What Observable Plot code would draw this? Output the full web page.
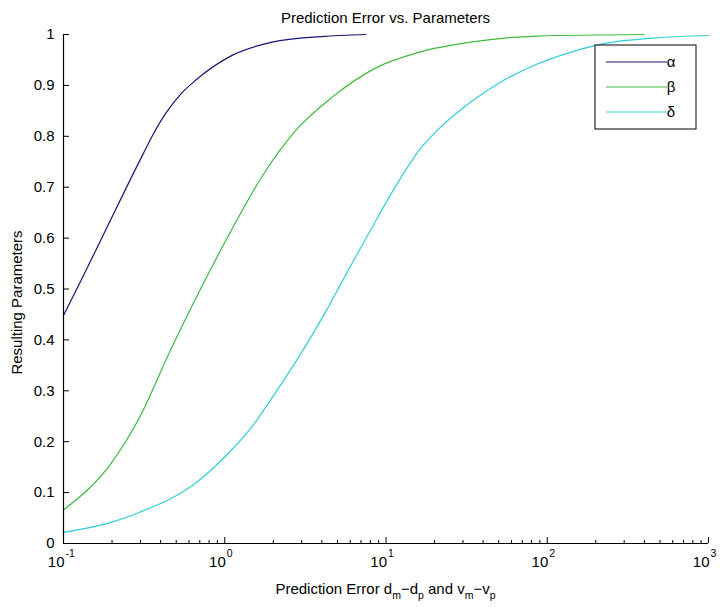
<!DOCTYPE html>
<html>
<head>
<meta charset="utf-8">
<script src="https://cdn.jsdelivr.net/npm/d3@7"></script>
<script src="https://cdn.jsdelivr.net/npm/@observablehq/plot@0.6"></script>
<style>
  body { margin: 0; background: #fff; }
  svg { font-family: "Liberation Sans", Arial, sans-serif; }
</style>
</head>
<body>
<div id="chart"></div>
<script>
// ---- data ----
const alphaX = [0.1, 0.13, 0.182, 0.308, 0.36, 0.43, 0.53, 0.659, 1.11, 1.97, 4, 7.5];
const alphaY = [0.448, 0.52, 0.615, 0.762, 0.804, 0.845, 0.882, 0.910, 0.959, 0.985, 0.996, 1.0];

const betaX = [0.1, 0.2, 0.3, 0.45, 0.708, 1.11, 1.71, 2.75, 4.64, 8.6, 16.4, 33.4, 87, 400];
const betaY = [0.066, 0.160, 0.251, 0.373, 0.50, 0.618, 0.722, 0.811, 0.877, 0.934, 0.966, 0.985, 0.997, 1.0];

const deltaX = [0.1, 0.2, 0.3, 0.63, 1.0, 1.48, 2.07, 3.02, 4.22, 5.35, 8.0, 12.9, 16, 20.7, 33.4, 53.8, 86.7, 139, 224, 458, 1000];
const deltaY = [0.022, 0.042, 0.062, 0.114, 0.170, 0.230, 0.297, 0.377, 0.455, 0.515, 0.615, 0.728, 0.772, 0.811, 0.867, 0.910, 0.942, 0.965, 0.982, 0.993, 0.998];

const seriesNames = ["α", "β", "δ"];
const seriesColors = ["#15157a", "#3cbb3c", "#30cfd6"];

const yTicks = [0, 0.1, 0.2, 0.3, 0.4, 0.5, 0.6, 0.7, 0.8, 0.9, 1];
const yTickLabels = ["0", "0.1", "0.2", "0.3", "0.4", "0.5", "0.6", "0.7", "0.8", "0.9", "1"];
const xMajor = [0.1, 1, 10, 100, 1000];
const xExponents = ["-1", "0", "1", "2", "3"];
const xMinor = [0.2,0.3,0.4,0.5,0.6,0.7,0.8,0.9, 2,3,4,5,6,7,8,9, 20,30,40,50,60,70,80,90, 200,300,400,500,600,700,800,900];

const titleText = "Prediction Error vs. Parameters";
const yLabelText = "Resulting Parameters";

// ---- build ----
const toRows = (xs, ys, name) => xs.map((x, i) => ({x, y: ys[i], name}));
const rows = [
  ...toRows(alphaX, alphaY, seriesNames[0]),
  ...toRows(betaX, betaY, seriesNames[1]),
  ...toRows(deltaX, deltaY, seriesNames[2])
];

const W = 720, H = 607;
const mL = 63, mR = 12, mT = 34, mB = 64;
const fs = 15;

const chart = Plot.plot({
  width: W,
  height: H,
  marginLeft: mL,
  marginRight: mR,
  marginTop: mT,
  marginBottom: mB,
  style: {fontFamily: '"Liberation Sans", Arial, sans-serif', fontSize: fs + "px", background: "#fff", overflow: "visible"},
  x: {type: "log", domain: [0.1, 1000], axis: null},
  y: {domain: [0, 1], axis: null},
  color: {domain: seriesNames, range: seriesColors},
  marks: [
    // data lines
    Plot.line(rows, {x: "x", y: "y", z: "name", stroke: "name", strokeWidth: 1.2, curve: "monotone-x"}),
    // axis lines
    Plot.ruleX([0.1], {y1: 0, y2: 1, stroke: "#000", strokeWidth: 1.2}),
    Plot.ruleY([0], {x1: 0.1, x2: 1000, stroke: "#000", strokeWidth: 1.2}),
    // y ticks (inward)
    Plot.ruleY(yTicks, {y: d => d, x1: 0.1, x2: 0.1, insetRight: -6, stroke: "#000"}),
    // x ticks (inward)
    Plot.ruleX(xMajor, {x: d => d, y1: 0, y2: 0, insetBottom: 6, stroke: "#000"}),
    Plot.ruleX(xMinor, {x: d => d, y1: 0, y2: 0, insetBottom: 3, stroke: "#000"}),
    // y tick labels
    Plot.text(yTicks, {x: 0.1, y: d => d, text: (d, i) => yTickLabels[i], textAnchor: "end", dx: -9, fill: "#000", fontSize: fs}),
    // x tick labels: base "10" and exponent
    Plot.text(xMajor, {x: d => d, y: 0, text: () => "10", textAnchor: "end", dx: 1, dy: 19, fill: "#000", fontSize: fs}),
    Plot.text(xMajor, {x: d => d, y: 0, text: (d, i) => xExponents[i], textAnchor: "start", dx: 2, dy: 10, fill: "#000", fontSize: 10.5})
  ]
});

document.getElementById("chart").appendChild(chart);

// ---- titles, axis labels, legend ----
const svg = d3.select(chart);
const cx = (mL + (W - mR)) / 2;

svg.append("text")
  .attr("x", cx).attr("y", 23)
  .attr("text-anchor", "middle")
  .attr("font-size", 15)
  .attr("fill", "#000")
  .text(titleText);

const xl = svg.append("text")
  .attr("x", cx).attr("y", 594)
  .attr("text-anchor", "middle")
  .attr("font-size", 15)
  .attr("fill", "#000");
const xlParts = [
  ["Prediction Error d", 0], ["m", 1], ["−d", 0], ["p", 1], [" and v", 0], ["m", 1], ["−v", 0], ["p", 1]
];
xlParts.forEach(([t, sub], i) => {
  const prevSub = i > 0 ? xlParts[i - 1][1] : 0;
  const ts = xl.append("tspan").text(t)
    .attr("dy", sub && !prevSub ? 5 : (!sub && prevSub ? -5 : 0));
  if (sub) ts.attr("font-size", 10.5);
});

svg.append("text")
  .attr("transform", `translate(22, ${(mT + (H - mB)) / 2 + 14}) rotate(-90)`)
  .attr("text-anchor", "middle")
  .attr("font-size", 15)
  .attr("fill", "#000")
  .text(yLabelText);

// legend
const lg = svg.append("g");
lg.append("rect")
  .attr("x", 595).attr("y", 45).attr("width", 101).attr("height", 84)
  .attr("fill", "#fff").attr("stroke", "#000").attr("stroke-width", 1);
seriesNames.forEach((name, i) => {
  const yy = 62 + i * 25;
  lg.append("line")
    .attr("x1", 606).attr("x2", 667).attr("y1", yy).attr("y2", yy)
    .attr("stroke", seriesColors[i]).attr("stroke-width", 1.2);
  lg.append("text")
    .attr("x", 671).attr("y", yy + 5)
    .attr("font-size", 15).attr("fill", "#000")
    .text(name);
});
</script>
</body>
</html>
